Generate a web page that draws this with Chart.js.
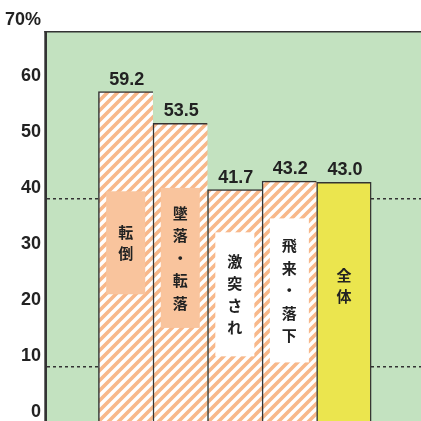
<!DOCTYPE html>
<html><head><meta charset="utf-8">
<script src="https://cdn.jsdelivr.net/npm/chart.js@4"></script>
<style>html,body{margin:0;padding:0;overflow:hidden;background:#fff;width:421px;height:421px}canvas{display:block}</style>
</head><body><canvas id="c" width="421" height="440"></canvas>
<script>
// ---- data ----
const categories = ['転倒', '墜落・転落', '激突され', '飛来・落下', '全体'];
const values = [59.2, 53.5, 41.7, 43.2, 43.0];
const valueLabels = ['59.2', '53.5', '41.7', '43.2', '43.0'];
const yTicks = [0, 10, 20, 30, 40, 50, 60, 70];
const dottedLines = [10, 40];

// ---- styling / layout constants ----
const GREEN = '#c3e2c0', YELLOW = '#ebe54e', EDGE = '#333', STRIPE = '#f8b88a', BOX_ORANGE = '#f9c49d';
const labelCenterValue = [32.2, 29.5, 23.0, 23.7, 24.5];
const labelBoxPad = [41, 25, 29, 27, 0];
const labelBoxFill = [BOX_ORANGE, BOX_ORANGE, '#ffffff', '#ffffff', null];
const labelLineH = [21, 22.5, 22, 22.5, 21];

function makeHatch() {
  const t = document.createElement('canvas');
  t.width = 10; t.height = 10;
  const c = t.getContext('2d');
  c.fillStyle = '#fff'; c.fillRect(0, 0, 10, 10);
  c.strokeStyle = STRIPE; c.lineWidth = 3.6;
  c.beginPath();
  for (const k of [0, 10, 20]) { c.moveTo(k - 20, 20); c.lineTo(k + 20, -20); }
  c.stroke();
  return document.getElementById('c').getContext('2d').createPattern(t, 'repeat');
}
const hatch = makeHatch();
const fills = values.map((v, i) => i === values.length - 1 ? YELLOW : hatch);

const bgPlugin = {
  id: 'bg',
  beforeDraw(ch) {
    const { ctx, chartArea: a } = ch;
    ctx.save(); ctx.fillStyle = GREEN;
    ctx.fillRect(a.left, a.top, ch.width - a.left, a.bottom - a.top);
    ctx.restore();
  }
};

const labelPlugin = {
  id: 'labels',
  afterDatasetsDraw(ch) {
    const { ctx } = ch;
    const meta = ch.getDatasetMeta(0);
    const ys = ch.scales.y;
    ctx.save();
    meta.data.forEach((bar, i) => {
      const chars = Array.from(categories[i]);
      const lh = labelLineH[i];
      const cy = ys.getPixelForValue(labelCenterValue[i]);
      const half = (chars.length - 1) * lh / 2;
      if (labelBoxFill[i]) {
        ctx.fillStyle = labelBoxFill[i];
        const pad = labelBoxPad[i];
        ctx.fillRect(bar.x - 19.5, cy - half - pad, 39, 2 * half + 2 * pad);
      }
      ctx.fillStyle = '#222';
      ctx.font = 'bold 15px "Noto Sans CJK JP"';
      ctx.textAlign = 'center'; ctx.textBaseline = 'middle';
      chars.forEach((ch2, k) => ctx.fillText(ch2, bar.x, cy - half + k * lh));
      // value label
      ctx.font = 'bold 18px "Liberation Sans"';
      ctx.textBaseline = 'alphabetic';
      ctx.fillText(valueLabels[i], bar.x + 1, bar.y - 7);
    });
    ctx.restore();
  }
};

const framePlugin = {
  id: 'frame',
  afterDraw(ch) {
    const { ctx, chartArea: a } = ch;
    ctx.save();
    ctx.strokeStyle = EDGE;
    ctx.lineWidth = 1.5;
    ctx.beginPath(); ctx.moveTo(44.3, a.top + 0.7); ctx.lineTo(ch.width, a.top + 0.7); ctx.stroke();
    ctx.lineWidth = 2.7;
    ctx.beginPath(); ctx.moveTo(a.left - 1.35, a.top); ctx.lineTo(a.left - 1.35, ch.height); ctx.stroke();
    ctx.restore();
  }
};

new Chart(document.getElementById('c'), {
  type: 'bar',
  data: {
    datasets: [{
      data: values.map((v, i) => ({ x: i + 1, y: v })),
      backgroundColor: fills,
      borderColor: EDGE,
      borderWidth: (c) => ({ top: 1.5, left: 1.5, bottom: 0, right: c.dataIndex === values.length - 1 ? 1.5 : 0 }),
      borderSkipped: 'start',
      barPercentage: 1,
      categoryPercentage: 1
    }]
  },
  options: {
    responsive: false, animation: false, devicePixelRatio: 1,
    layout: { padding: { top: 31, right: 0, bottom: 14, left: 0 } },
    plugins: { legend: { display: false }, tooltip: { enabled: false } },
    scales: {
      x: {
        type: 'linear', min: -0.443, max: 6.413, display: false, offset: false,
        afterBuildTicks: s => { s.ticks = values.map((v, i) => ({ value: i + 1 })); }
      },
      y: {
        min: 0, max: 70,
        afterBuildTicks: s => { s.ticks = yTicks.map(v => ({ value: v })); },
        afterFit: s => { s.width = 47; },
        ticks: {
          callback: v => v === 70 ? '70%' : String(v),
          font: { family: 'Liberation Sans', weight: 'bold', size: 18 },
          color: '#222', padding: 6, labelOffset: -11, autoSkip: false
        },
        grid: {
          drawTicks: false, lineWidth: 1.5,
          color: c => (c.tick && dottedLines.includes(c.tick.value)) ? '#333' : 'rgba(0,0,0,0)'
        },
        border: { display: false, dash: [3, 3] }
      }
    }
  },
  plugins: [bgPlugin, labelPlugin, framePlugin]
});
</script>
</body></html>
